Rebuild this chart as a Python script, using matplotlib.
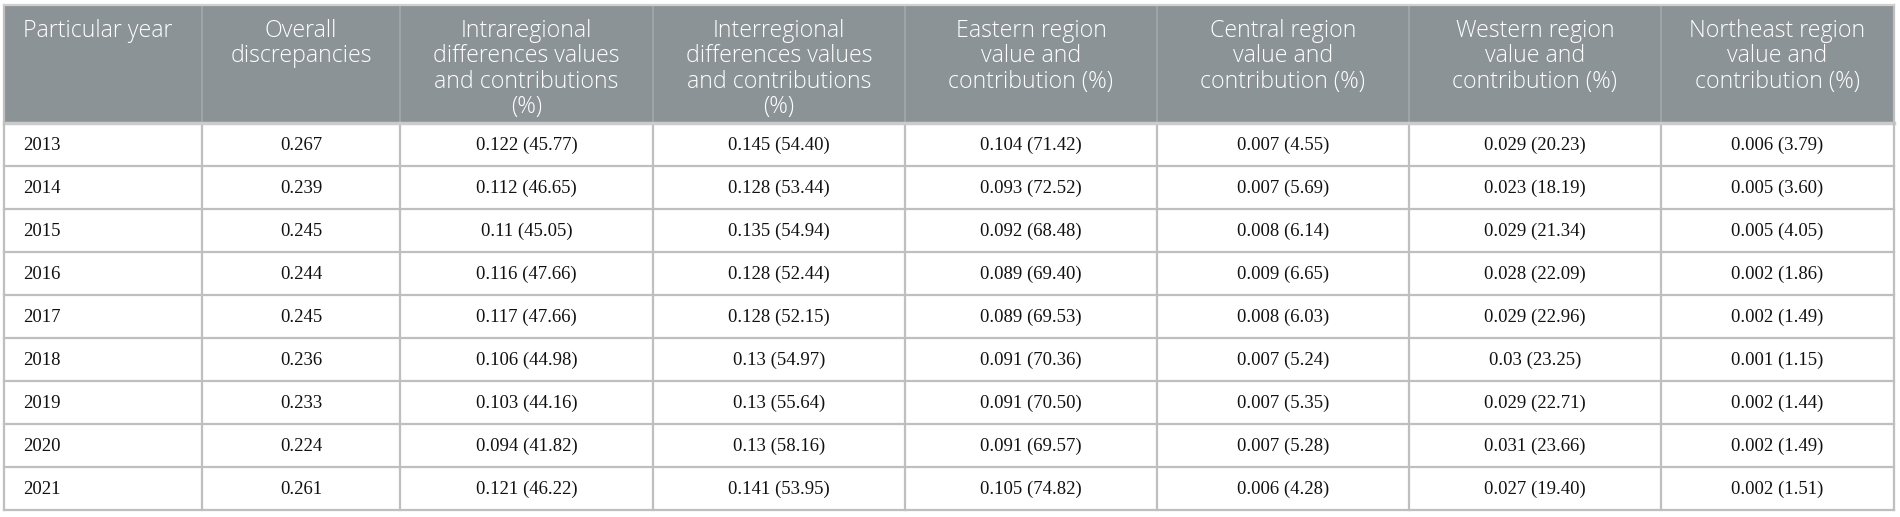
import matplotlib.pyplot as plt
from matplotlib.patches import Rectangle

headers = ["Particular year",
           "Overall\ndiscrepancies",
           "Intraregional\ndifferences values\nand contributions\n(%)",
           "Interregional\ndifferences values\nand contributions\n(%)",
           "Eastern region\nvalue and\ncontribution (%)",
           "Central region\nvalue and\ncontribution (%)",
           "Western region\nvalue and\ncontribution (%)",
           "Northeast region\nvalue and\ncontribution (%)"]

years = ["2013", "2014", "2015", "2016", "2017", "2018", "2019", "2020", "2021"]
overall = ["0.267", "0.239", "0.245", "0.244", "0.245", "0.236", "0.233", "0.224", "0.261"]
intra = ["0.122 (45.77)", "0.112 (46.65)", "0.11 (45.05)", "0.116 (47.66)", "0.117 (47.66)",
         "0.106 (44.98)", "0.103 (44.16)", "0.094 (41.82)", "0.121 (46.22)"]
inter = ["0.145 (54.40)", "0.128 (53.44)", "0.135 (54.94)", "0.128 (52.44)", "0.128 (52.15)",
         "0.13 (54.97)", "0.13 (55.64)", "0.13 (58.16)", "0.141 (53.95)"]
eastern = ["0.104 (71.42)", "0.093 (72.52)", "0.092 (68.48)", "0.089 (69.40)", "0.089 (69.53)",
           "0.091 (70.36)", "0.091 (70.50)", "0.091 (69.57)", "0.105 (74.82)"]
central = ["0.007 (4.55)", "0.007 (5.69)", "0.008 (6.14)", "0.009 (6.65)", "0.008 (6.03)",
           "0.007 (5.24)", "0.007 (5.35)", "0.007 (5.28)", "0.006 (4.28)"]
western = ["0.029 (20.23)", "0.023 (18.19)", "0.029 (21.34)", "0.028 (22.09)", "0.029 (22.96)",
           "0.03 (23.25)", "0.029 (22.71)", "0.031 (23.66)", "0.027 (19.40)"]
northeast = ["0.006 (3.79)", "0.005 (3.60)", "0.005 (4.05)", "0.002 (1.86)", "0.002 (1.49)",
             "0.001 (1.15)", "0.002 (1.44)", "0.002 (1.49)", "0.002 (1.51)"]

columns = [years, overall, intra, inter, eastern, central, western, northeast]

# layout in pixels
col_edges = [4, 202, 400, 653, 905, 1157, 1409, 1661, 1894]
top, head_bot, row_h = 5, 123, 43
head_col = '#8c9396'
line_col = '#bfbfbf'

fig = plt.figure(figsize=(19, 5.17), dpi=100)
ax = fig.add_axes([0, 0, 1, 1])
ax.set_xlim(0, 1900)
ax.set_ylim(517, 0)
ax.axis('off')

bottom = head_bot + row_h * len(years)

# header band
ax.add_patch(Rectangle((col_edges[0], top), col_edges[-1] - col_edges[0], head_bot - top,
                       facecolor=head_col, edgecolor='none', zorder=1))
ax.plot([col_edges[0], col_edges[-1]], [head_bot, head_bot], color='#c9cbcc', lw=2.5, zorder=3)

hfont = dict(color='white', fontsize=16.7, family='Open Sans', weight='light',
             linespacing=1.08, va='top', zorder=4)
for i, h in enumerate(headers):
    x0, x1 = col_edges[i], col_edges[i + 1]
    if i == 0:
        ax.text(x0 + 19, top + 14, h, ha='left', **hfont)
    else:
        ax.text((x0 + x1) / 2, top + 14, h, ha='center', **hfont)

# vertical lines
for i, xe in enumerate(col_edges):
    if i == 0 or i == len(col_edges) - 1:
        ax.plot([xe, xe], [top, bottom], color=line_col, lw=1.6, zorder=3)
    else:
        ax.plot([xe, xe], [top, head_bot], color='#a3a9ab', lw=1.2, zorder=2)
        ax.plot([xe, xe], [head_bot, bottom], color=line_col, lw=1.6, zorder=2)

# horizontal lines
ax.plot([col_edges[0], col_edges[-1]], [top, top], color='#d0d0d0', lw=1.6, zorder=3)
for r in range(1, len(years) + 1):
    y = head_bot + r * row_h
    ax.plot([col_edges[0], col_edges[-1]], [y, y], color=line_col, lw=1.6, zorder=2)

# body
for r in range(len(years)):
    yc = head_bot + r * row_h + row_h / 2 + 1
    for c, col in enumerate(columns):
        x0, x1 = col_edges[c], col_edges[c + 1]
        if c == 0:
            ax.text(x0 + 19, yc, col[r], ha='left', va='center', fontsize=13.5,
                    family='Liberation Serif', color='#111111', zorder=4)
        else:
            ax.text((x0 + x1) / 2, yc, col[r], ha='center', va='center', fontsize=13.5,
                    family='Liberation Serif', color='#111111', zorder=4)

plt.savefig('out.png', dpi=100)
